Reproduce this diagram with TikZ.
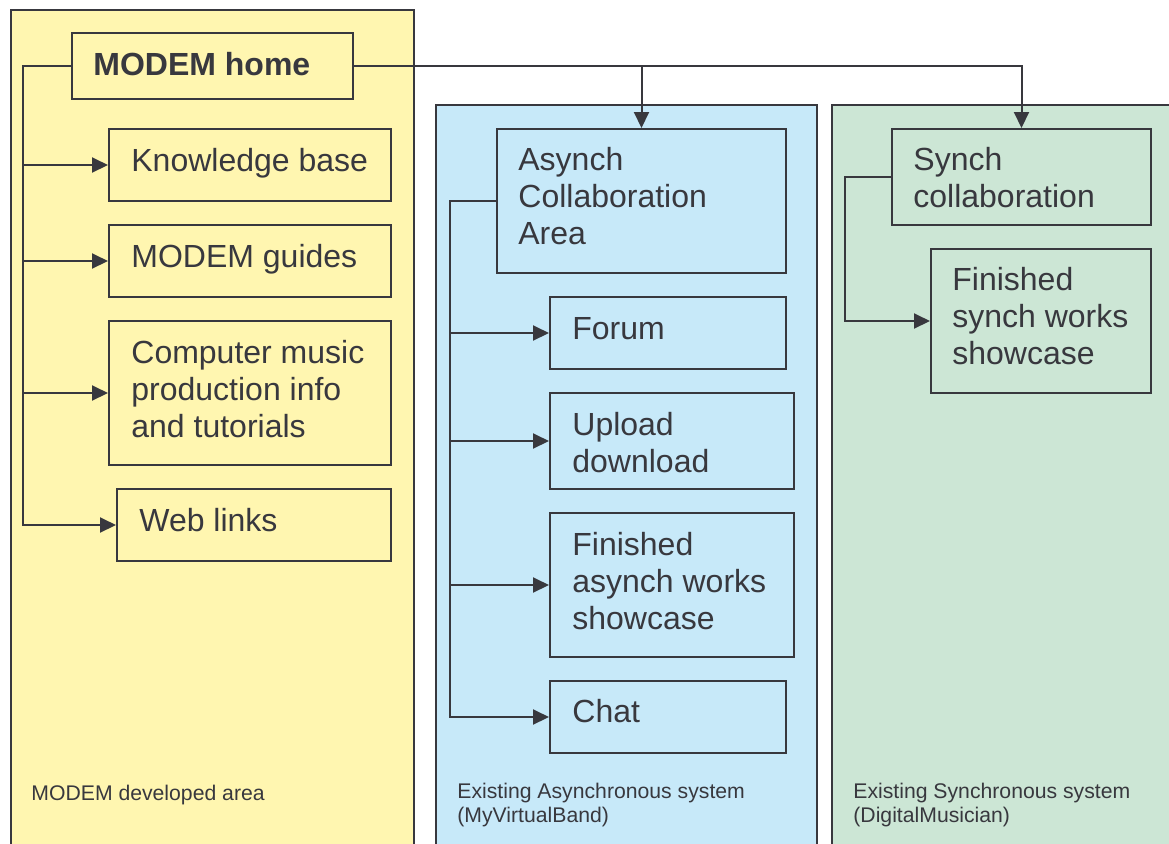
\documentclass[tikz,border=0pt]{standalone}
\usepackage{fontspec}
\setmainfont{Liberation Sans}
\usetikzlibrary{arrows.meta,fit}
\definecolor{ink}{RGB}{56,56,62}
\definecolor{panelY}{RGB}{255,246,176}
\definecolor{panelB}{RGB}{199,233,249}
\definecolor{panelG}{RGB}{204,230,213}
% left-aligned stack of lines whose baseline is the first line
\newcommand{\ml}[1]{\begin{tabular}[t]{@{}l@{}}#1\end{tabular}}
\begin{document}
\begin{tikzpicture}[x=0.5pt,y=-0.5pt,
  panel/.style={draw=ink, line width=1pt, inner sep=0pt},
  box/.style={draw=ink, line width=1pt, inner sep=0pt},
  lbl/.style={anchor=base west, inner sep=0pt, text=ink,
    font=\fontsize{16}{18.5}\selectfont},
  note/.style={anchor=base west, inner sep=0pt, text=ink,
    font=\fontsize{10.6}{12}\selectfont},
  link/.style={draw=ink, line width=1pt},
  arr/.style={link, -{Triangle[length=8pt,width=7.5pt]}}]
\useasboundingbox (0,0) rectangle (1169,843);
\clip (0,0) rectangle (1169,843);

% the three areas
\node[panel, fill=panelY, fit={(11,10)(414,870)}] (areaY) {};
\node[panel, fill=panelB, fit={(436,105)(817,870)}] (areaB) {};
\node[panel, fill=panelG, fit={(832,105)(1190,870)}] (areaG) {};

% MODEM developed area
\node[box, fit={(72,33)(353,99)}] (home) {};
\node[lbl, font=\fontsize{16}{18.5}\selectfont\bfseries] (homeT) at (93,75) {MODEM home};
\node[box, fit={(109,129)(391,201)}] (kb) {};
\node[lbl] (kbT) at (131,171) {Knowledge base};
\node[box, fit={(109,225)(391,297)}] (guides) {};
\node[lbl] (guidesT) at (131,267) {MODEM guides};
\node[box, fit={(109,321)(391,465)}] (cmp) {};
\node[lbl] (cmpT) at (131,363) {\ml{Computer music\\production info\\and tutorials}};
\node[box, fit={(117,489)(391,561)}] (web) {};
\node[lbl] (webT) at (139,531) {Web links};
\node[note] (areaYT) at (31,800) {MODEM developed area};

% existing asynchronous system
\node[box, fit={(497,129)(786,273)}] (asynch) {};
\node[lbl] (asynchT) at (518,170) {\ml{Asynch\\Collaboration\\Area}};
\node[box, fit={(550,297)(786,369)}] (forum) {};
\node[lbl] (forumT) at (572,339) {Forum};
\node[box, fit={(550,393)(794,489)}] (upload) {};
\node[lbl] (uploadT) at (572,435) {\ml{Upload\\download}};
\node[box, fit={(550,513)(794,657)}] (fasynch) {};
\node[lbl] (fasynchT) at (572,555) {\ml{Finished\\asynch works\\showcase}};
\node[box, fit={(550,681)(786,753)}] (chat) {};
\node[lbl] (chatT) at (572,722) {Chat};
\node[note] (areaBT) at (457,798) {\ml{Existing Asynchronous system\\(MyVirtualBand)}};

% existing synchronous system
\node[box, fit={(892,129)(1151,225)}] (synch) {};
\node[lbl] (synchT) at (913,170) {\ml{Synch\\collaboration}};
\node[box, fit={(931,249)(1151,393)}] (fsynch) {};
\node[lbl] (fsynchT) at (952,290) {\ml{Finished\\synch works\\showcase}};
\node[note] (areaGT) at (853,798) {\ml{Existing Synchronous system\\(DigitalMusician)}};

% connectors
\coordinate (trunkY) at (23,66);
\draw[arr] (home.west) -- (trunkY) |- (web.west);
\draw[arr] (trunkY |- kb.west) -- (kb.west);
\draw[arr] (trunkY |- guides.west) -- (guides.west);
\draw[arr] (trunkY |- cmp.west) -- (cmp.west);

\draw[arr] (home.east) -| (synch.north);
\draw[arr] (home.east -| asynch.north) -- (asynch.north);

\coordinate (trunkB) at (450,201);
\draw[arr] (asynch.west) -- (trunkB) |- (chat.west);
\draw[arr] (trunkB |- forum.west) -- (forum.west);
\draw[arr] (trunkB |- upload.west) -- (upload.west);
\draw[arr] (trunkB |- fasynch.west) -- (fasynch.west);

\coordinate (trunkG) at (845,177);
\draw[arr] (synch.west) -- (trunkG) |- (fsynch.west);
\end{tikzpicture}
\end{document}
